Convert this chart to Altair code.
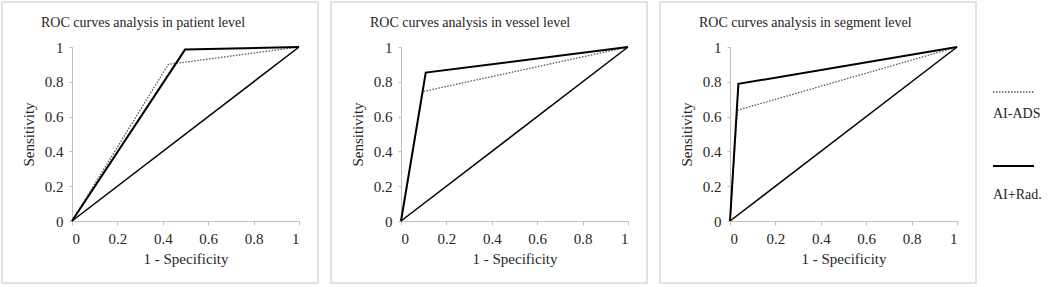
import altair as alt
import pandas as pd

# ---- data ----
panel_titles = [
    "ROC curves analysis in patient level",
    "ROC curves analysis in vessel level",
    "ROC curves analysis in segment level",
]
series_names = ["AI-ADS", "AI+Rad."]
# knee points of each ROC curve (1 - specificity, sensitivity)
ads_fpr = [0.424, 0.097, 0.032]
ads_tpr = [0.900, 0.744, 0.636]
rad_fpr = [0.498, 0.109, 0.037]
rad_tpr = [0.985, 0.853, 0.788]
tick_values = [0, 0.2, 0.4, 0.6, 0.8, 1]

SERIF = "'Liberation Serif', 'Times New Roman', Times, serif"

def panel(i, with_legend=False):
    rows = []
    for s, fx, ty in [(series_names[0], ads_fpr[i], ads_tpr[i]),
                      (series_names[1], rad_fpr[i], rad_tpr[i])]:
        rows += [
            {"series": s, "fpr": 0.0, "tpr": 0.0, "step": 0},
            {"series": s, "fpr": fx, "tpr": ty, "step": 1},
            {"series": s, "fpr": 1.0, "tpr": 1.0, "step": 2},
        ]
    rows += [
        {"series": "Chance", "fpr": 0.0, "tpr": 0.0, "step": 0},
        {"series": "Chance", "fpr": 1.0, "tpr": 1.0, "step": 1},
    ]
    df = pd.DataFrame(rows)
    base = alt.Chart(df)
    x = alt.X("fpr:Q", scale=alt.Scale(domain=[0, 1], nice=False, zero=True),
              axis=alt.Axis(values=tick_values, format="~g", title="1 - Specificity"))
    y = alt.Y("tpr:Q", scale=alt.Scale(domain=[0, 1], nice=False, zero=True),
              axis=alt.Axis(values=tick_values, format="~g", title="Sensitivity"))

    diag = base.transform_filter(alt.datum.series == "Chance").mark_line(
        color="black", strokeWidth=1.5).encode(x=x, y=y, order="step:Q")
    ads = base.transform_filter(alt.datum.series == series_names[0]).mark_line(
        color="#555555", strokeWidth=1.3, strokeDash=[1.5, 1.5]).encode(x=x, y=y, order="step:Q")
    rad = base.transform_filter(alt.datum.series == series_names[1]).mark_line(
        color="black", strokeWidth=2).encode(x=x, y=y, order="step:Q")

    one = alt.Data(values=[{"k": 1}])
    box = alt.Chart(one).mark_rect(
        fillOpacity=0, stroke="#d9d9d9", strokeWidth=1.5, clip=False
    ).encode(x=alt.value(-70), x2=alt.value(246), y=alt.value(-45), y2=alt.value(236))
    title = alt.Chart(one).mark_text(
        align="left", baseline="middle", font=SERIF, fontSize=14, color="#262626"
    ).encode(x=alt.value(-31), y=alt.value(-24), text=alt.value(panel_titles[i]))

    layers = [box, title, diag, ads, rad]
    if with_legend:
        leg_ads_line = alt.Chart(one).mark_rule(
            color="#555555", strokeWidth=1.3, strokeDash=[1.5, 1.5]
        ).encode(x=alt.value(263), x2=alt.value(304), y=alt.value(45))
        leg_ads_text = alt.Chart(one).mark_text(
            align="left", baseline="middle", font=SERIF, fontSize=14, color="#262626"
        ).encode(x=alt.value(263), y=alt.value(67), text=alt.value(series_names[0]))
        leg_rad_line = alt.Chart(one).mark_rule(
            color="black", strokeWidth=2
        ).encode(x=alt.value(263), x2=alt.value(304), y=alt.value(119))
        leg_rad_text = alt.Chart(one).mark_text(
            align="left", baseline="middle", font=SERIF, fontSize=14, color="#262626"
        ).encode(x=alt.value(263), y=alt.value(148), text=alt.value(series_names[1]))
        layers += [leg_ads_line, leg_ads_text, leg_rad_line, leg_rad_text]

    return alt.layer(*layers).properties(width=227, height=174)

chart = alt.hconcat(
    panel(0), panel(1), panel(2, with_legend=True), spacing=11
).properties(
    padding={"left": 1, "top": 1, "right": 0, "bottom": 0},
    background="white",
).configure_view(
    strokeWidth=0
).configure_axis(
    grid=False,
    labelFont=SERIF, titleFont=SERIF,
    labelFontSize=15, titleFontSize=15, titleFontWeight="normal",
    labelColor="#262626", titleColor="#262626",
    domainColor="#bfbfbf", tickColor="#bfbfbf", domainWidth=1,
).configure_axisX(
    tickSize=4, labelPadding=6, titlePadding=5,
).configure_axisY(
    tickSize=3, labelPadding=6, titlePadding=8,
).configure_text(
    font=SERIF
)

chart.save("out.html", embed_options={"renderer": "svg", "actions": False})
